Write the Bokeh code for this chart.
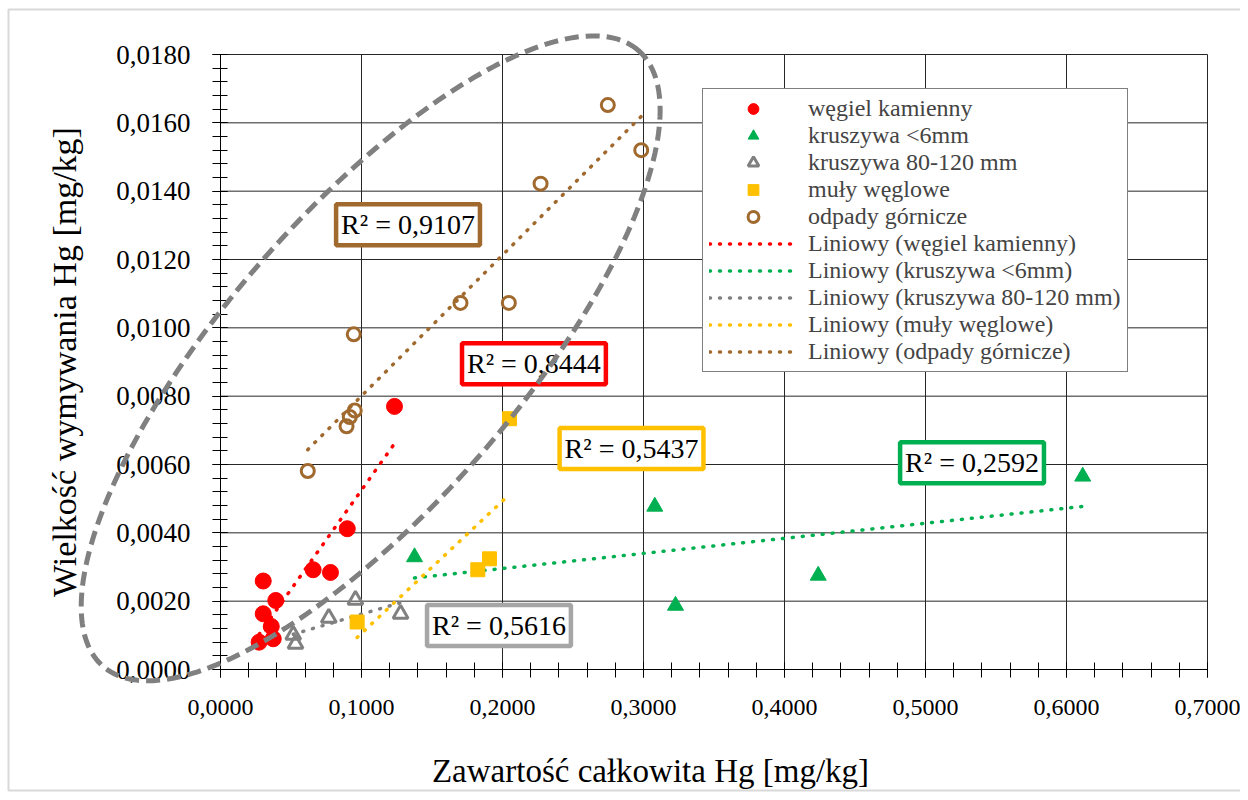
import numpy as np
from bokeh.plotting import figure
from bokeh.models import (Range1d, FixedTicker, CustomJSTickFormatter, Legend,
                          LegendItem, Label, PolyAnnotation)
from bokeh.embed import file_html
from bokeh.resources import INLINE

FONT = "Liberation Serif"

# ---------------- data ----------------
coal_x = [0.0274, 0.0303, 0.0392, 0.0303, 0.0360, 0.0374, 0.0657, 0.0780, 0.0899, 0.1234]
coal_y = [0.00080, 0.00259, 0.00202, 0.00163, 0.00126, 0.00090, 0.00292, 0.00284, 0.00412, 0.00770]
agg6_x = [0.1376, 0.3080, 0.3227, 0.4239, 0.6115]
agg6_y = [0.00329, 0.00477, 0.00187, 0.00275, 0.00565]
agg80_x = [0.0532, 0.0516, 0.0768, 0.0957, 0.1277]
agg80_y = [0.00075, 0.00101, 0.00151, 0.00204, 0.00163]
slurry_x = [0.0969, 0.1825, 0.1908, 0.2050]
slurry_y = [0.00139, 0.00292, 0.00324, 0.00734]
waste_x = [0.0619, 0.0894, 0.0917, 0.0952, 0.0945, 0.1702, 0.2045, 0.2270, 0.2747, 0.2984]
waste_y = [0.00581, 0.00712, 0.00739, 0.00758, 0.00981, 0.01073, 0.01073, 0.01422, 0.01652, 0.01520]

series_names = ["węgiel kamienny", "kruszywa <6mm", "kruszywa 80-120 mm", "muły węglowe", "odpady górnicze"]
r2_texts = ["R² = 0,8444", "R² = 0,2592", "R² = 0,5616", "R² = 0,5437", "R² = 0,9107"]
r2_pos_x = [0.2223, 0.5330, 0.1975, 0.2915, 0.1330]
r2_pos_y = [0.008946, 0.006053, 0.001288, 0.006471, 0.01302]

x_ticks = [round(i * 0.1, 4) for i in range(8)]          # 0,0000 ... 0,7000
y_ticks = [round(i * 0.002, 4) for i in range(10)]       # 0,0000 ... 0,0180
x_minor = [round(i * 0.02, 4) for i in range(36)]
y_minor = [round(i * 0.0004, 5) for i in range(46)]

x_title = "Zawartość całkowita Hg [mg/kg]"
y_title = "Wielkość wymywania Hg [mg/kg]"

# ellipse annotation (center in data units, semi-axes in screen px, angle in degrees)
ell_center = (0.1065, 0.009107)
ell_semi_axes_px = (408.0, 146.0)
ell_angle_deg = 49.0

# ---------------- geometry / styles ----------------
colors = ["#FF0000", "#00B050", "#808080", "#FFC000", "#A0692E"]
box_colors = ["#FF0000", "#00B050", "#A6A6A6", "#FFC000", "#A0692E"]

W, H = 1240, 792
X0_PX, Y0_PX = 220, 669            # pixel position of the data origin
PX_PER_X = 987 / 0.7
PX_PER_Y = 615 / 0.018

x_range = Range1d(-X0_PX / PX_PER_X, (W - X0_PX) / PX_PER_X)
y_range = Range1d(-(H - Y0_PX) / PX_PER_Y, Y0_PX / PX_PER_Y)

p = figure(width=W, height=H, output_backend="svg", toolbar_location=None,
           x_range=x_range, y_range=y_range, min_border=0,
           min_border_left=0, min_border_right=0, min_border_top=0, min_border_bottom=0)
p.background_fill_color = "white"
p.border_fill_color = "white"
p.outline_line_color = None
p.grid.visible = False

# outer chart-area border
p.quad(left=[-(X0_PX - 8) / PX_PER_X], right=[(W + 20 - X0_PX) / PX_PER_X],
       top=[(Y0_PX - 9) / PX_PER_Y], bottom=[-(790 - Y0_PX) / PX_PER_Y],
       fill_color=None, line_color="#d9d9d9", line_width=2)

# gridlines from tick values
p.segment(x0=x_ticks, x1=x_ticks, y0=[y_ticks[0]] * len(x_ticks), y1=[y_ticks[-1]] * len(x_ticks),
          line_color="#262626", line_width=1)
p.segment(x0=[x_ticks[0]] * len(y_ticks), x1=[x_ticks[-1]] * len(y_ticks), y0=y_ticks, y1=y_ticks,
          line_color="#262626", line_width=1)

fmt = CustomJSTickFormatter(code="return tick.toFixed(4).replace('.', ',');")
p.xaxis.ticker = FixedTicker(ticks=x_ticks, minor_ticks=x_minor)
p.yaxis.ticker = FixedTicker(ticks=y_ticks, minor_ticks=y_minor)
p.xaxis.bounds = (x_ticks[0], x_ticks[-1])
p.yaxis.bounds = (y_ticks[0], y_ticks[-1])
p.xaxis.fixed_location = 0
p.yaxis.fixed_location = 0
for ax in (p.xaxis, p.yaxis):
    ax.formatter = fmt
    ax.axis_line_color = "black"
    ax.major_tick_line_color = "black"
    ax.minor_tick_line_color = "black"
    ax.major_tick_in = 7
    ax.major_tick_out = 8
    ax.minor_tick_in = 7
    ax.minor_tick_out = 8
    ax.major_label_text_font = FONT
    ax.major_label_text_color = "black"
    ax.major_label_standoff = 22
p.yaxis.major_label_text_font_size = "27px"
p.xaxis.major_label_text_font_size = "24px"
p.yaxis.axis_label = y_title
p.yaxis.axis_label_text_font = FONT
p.yaxis.axis_label_text_font_size = "34px"
p.yaxis.axis_label_text_font_style = "normal"
p.yaxis.axis_label_text_color = "black"
p.yaxis.axis_label_standoff = 30

xs_all = [coal_x, agg6_x, agg80_x, slurry_x, waste_x]
ys_all = [coal_y, agg6_y, agg80_y, slurry_y, waste_y]

# linear trend lines
line_renderers = []
for xs, ys, c in zip(xs_all, ys_all, colors):
    k, b = np.polyfit(xs, ys, 1)
    lx = np.array([min(xs), max(xs)])
    r = p.line(lx, k * lx + b, line_color=c, line_width=3.5, line_dash="1 9", line_cap="round")
    line_renderers.append(r)

marker_kw = [
    dict(marker="circle", size=16, fill_color=colors[0], line_color=colors[0]),
    dict(marker="triangle", size=16, fill_color=colors[1], line_color=colors[1]),
    dict(marker="triangle", size=15, fill_color=None, line_color=colors[2], line_width=3),
    dict(marker="square", size=14, fill_color=colors[3], line_color=colors[3]),
    dict(marker="circle", size=13, fill_color=None, line_color=colors[4], line_width=3),
]
scatter_renderers = []
for xs, ys, kw in zip(xs_all, ys_all, marker_kw):
    scatter_renderers.append(p.scatter(xs, ys, **kw))

# R² labels
for t, lx, ly, c in zip(r2_texts, r2_pos_x, r2_pos_y, box_colors):
    p.add_layout(Label(x=lx, y=ly, text=t, text_font=FONT, text_font_size="28px",
                       text_align="center", text_baseline="middle", text_color="black",
                       border_line_color=c, border_line_width=4.5,
                       background_fill_color="white", padding=5))

# dashed ellipse
th = np.deg2rad(ell_angle_deg)
t = np.linspace(0, 2 * np.pi, 240)
a, bb = ell_semi_axes_px
dxp = a * np.cos(t) * np.cos(th) - bb * np.sin(t) * np.sin(th)
dyp = a * np.cos(t) * np.sin(th) + bb * np.sin(t) * np.cos(th)
p.add_layout(PolyAnnotation(xs=list(ell_center[0] + dxp / PX_PER_X), ys=list(ell_center[1] + dyp / PX_PER_Y),
                            fill_alpha=0, line_alpha=1, line_color="#808080", line_width=5,
                            line_dash="14 7"))

# x title
p.add_layout(Label(x=(650 - X0_PX) / PX_PER_X, y=-(770 - Y0_PX) / PX_PER_Y, text=x_title,
                   text_font=FONT, text_font_size="33px",
                   text_align="center", text_baseline="middle", text_color="black"))

items = [LegendItem(label=n, renderers=[r]) for n, r in zip(series_names, scatter_renderers)]
items += [LegendItem(label="Liniowy (" + n + ")", renderers=[r]) for n, r in zip(series_names, line_renderers)]
legend = Legend(items=items, location=(702, H - 372), label_text_font=FONT, label_text_font_size="24px",
                border_line_color="black", border_line_width=1, background_fill_alpha=1,
                padding=6, spacing=0, margin=0, label_height=27, glyph_height=27, glyph_width=88,
                label_standoff=11)
p.add_layout(legend)

open("out.html", "w").write(file_html(p, INLINE))
